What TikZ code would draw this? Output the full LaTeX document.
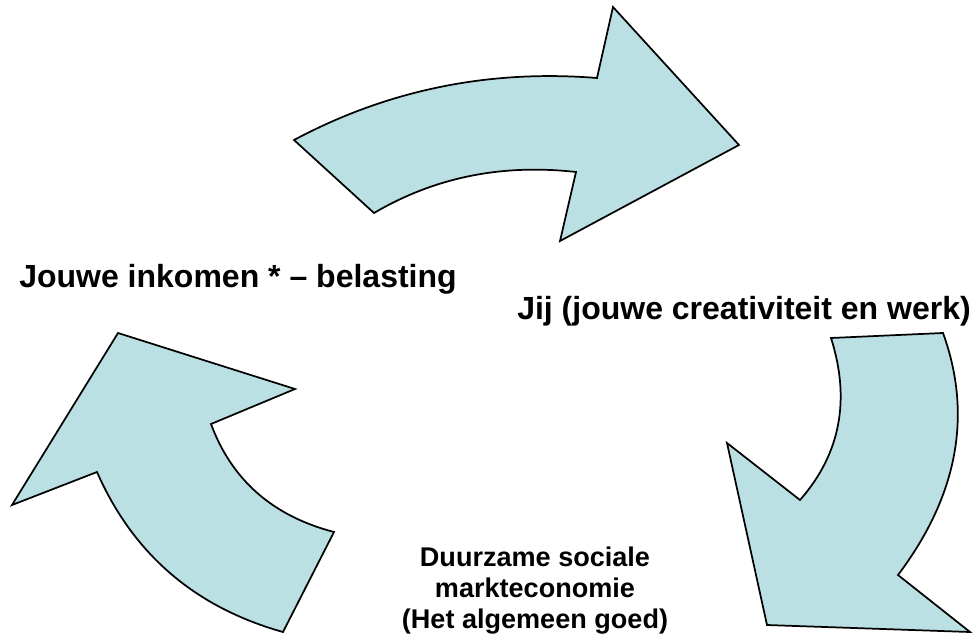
\documentclass[tikz,border=0pt]{standalone}
\usepackage{fontspec}
\setmainfont{Liberation Sans}
\usepackage{tikz}
\usetikzlibrary{positioning}
\usepackage{xcolor}
\definecolor{pijlblauw}{RGB}{187,224,227}

\begin{document}
\begin{tikzpicture}[x=0.75pt,y=-0.75pt,
  pijl/.style={fill=pijlblauw,draw=black,line width=1.3pt,line join=miter},
  groot/.style={font=\bfseries\fontsize{24}{28.8}\selectfont,inner sep=0pt},
  klein/.style={font=\bfseries\fontsize{20.3}{23.25}\selectfont,inner sep=0pt,align=center}]
\useasboundingbox (0,0) rectangle (978,639);

\filldraw [pijl] (294,140) .. controls (387.7,90) and (488.7,69.3) .. (597,78)--(613,7)--(739,145)--(560,241)--(576,172) .. controls (502,163.7) and (434.7,177.3) .. (374,213)--cycle;
\filldraw [pijl] (831,338)--(943,333) .. controls (972.7,415) and (957.7,495.7) .. (898,575)--(970,632)--(767,625)--(727,443)--(800,500) .. controls (840.3,454) and (850.7,400) .. cycle;
\filldraw [pijl] (118,333)--(295,389)--(211,424) .. controls (231.7,480) and (272.7,516) .. (334,532)--(283,632) .. controls (195,607.3) and (133,554) .. (97,472)--(12,505)--cycle;

\node [groot,anchor=base] (inkomen) at (238,287) {Jouwe inkomen * -- belasting};
\node [groot,anchor=base] (jij) at (744,319) {Jij (jouwe creativiteit en werk)};
\node [klein,anchor=base] (markt) at (535,628) {Duurzame sociale\\markteconomie\\(Het algemeen goed)};
\end{tikzpicture}
\end{document}
